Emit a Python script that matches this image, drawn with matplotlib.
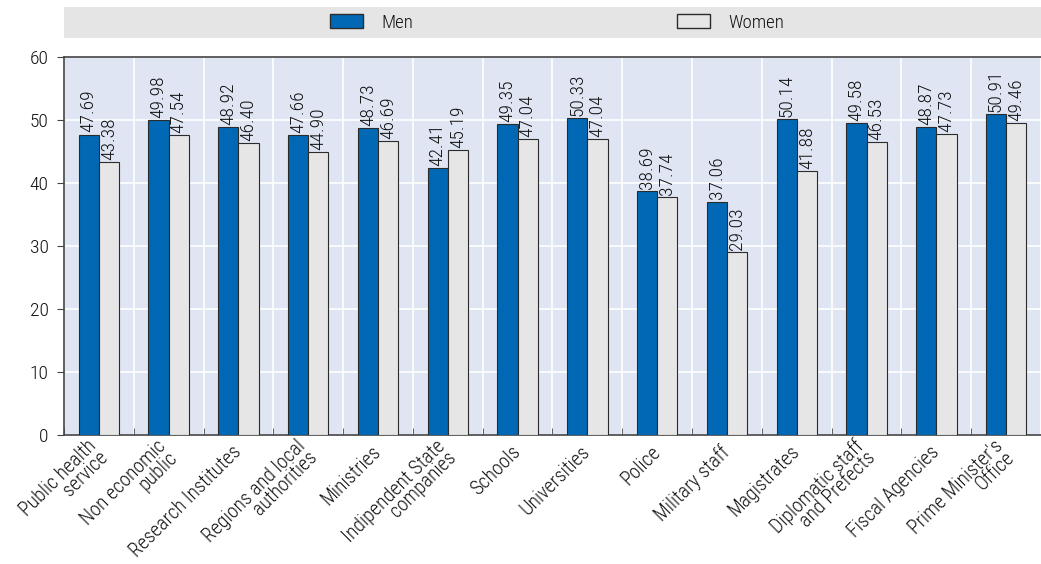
import numpy as np
import matplotlib
matplotlib.use("Agg")
from matplotlib import pyplot as plt
from matplotlib.patches import Patch, Rectangle

plt.rcParams['font.family'] = ['Roboto Condensed', 'Liberation Sans', 'DejaVu Sans']
plt.rcParams['font.weight'] = 'light'

# Data
categories = ["Public health\nservice", "Non economic\npublic", "Research Institutes",
              "Regions and local\nauthorities", "Ministries", "Indipendent State\ncompanies",
              "Schools", "Universities", "Police", "Military staff", "Magistrates",
              "Diplomatic staff\nand Prefects", "Fiscal Agencies", "Prime Minister's\nOffice"]
men = [47.69, 49.98, 48.92, 47.66, 48.73, 42.41, 49.35, 50.33, 38.69, 37.06, 50.14, 49.58, 48.87, 50.91]
women = [43.38, 47.54, 46.40, 44.90, 46.69, 45.19, 47.04, 47.04, 37.74, 29.03, 41.88, 46.53, 47.73, 49.46]

men_color = "#0068b5"
women_color = "#e6e6e6"
edge = "#2b2b2b"
txt = "#111111"

fig = plt.figure(figsize=(10.41, 5.64), dpi=100)
ax = fig.add_axes([64 / 1041, 1 - 435 / 564, 1 - 64 / 1041, (435 - 57) / 564])
ax.set_facecolor("#dfe5f3")

x = np.arange(len(categories))
w = 0.29
b1 = ax.bar(x - w / 2, men, w, color=men_color, edgecolor=edge, linewidth=0.8, zorder=3)
b2 = ax.bar(x + w / 2, women, w, color=women_color, edgecolor=edge, linewidth=0.8, zorder=3)
ax.bar_label(b1, labels=[f"{v:.2f}" for v in men], rotation=90, padding=1.5, fontsize=14, color=txt)
ax.bar_label(b2, labels=[f"{v:.2f}" for v in women], rotation=90, padding=1.5, fontsize=14, color=txt)

ax.set_xlim(-0.5, len(categories) - 0.5)
ax.set_ylim(0, 60)
ax.set_yticks(np.arange(0, 61, 10))
ax.yaxis.grid(True, color="white", linewidth=1.2, zorder=0)
# vertical separators between categories
ax.set_xticks(np.arange(-0.5, len(categories)), minor=True)
ax.xaxis.grid(True, which="minor", color="white", linewidth=1.2, zorder=0)
ax.set_axisbelow(True)

ax.set_xticks(x)
ax.set_xticklabels(categories, rotation=45, ha="right", va="center", rotation_mode="anchor",
                   fontsize=14.3, linespacing=0.8, color=txt)
ax.tick_params(axis="x", which="major", length=0, pad=10)
ax.tick_params(axis="x", which="minor", direction="in", length=5, color="#444444")
ax.tick_params(axis="y", length=5, color="#444444", labelsize=14, labelcolor=txt, pad=6)

for s in ["left", "bottom", "top"]:
    ax.spines[s].set_color("#444444")
    ax.spines[s].set_linewidth(1.2)
ax.spines["right"].set_visible(False)

# Legend band
fig.patches.append(Rectangle((64 / 1041, 1 - 38 / 564), 1 - 64 / 1041, 31 / 564,
                             transform=fig.transFigure, facecolor="#e5e5e5", edgecolor="none"))
fig.legend(handles=[Patch(facecolor=men_color, edgecolor=edge, label="Men")],
           loc="center left", bbox_to_anchor=(313 / 1041, 1 - 22.5 / 564), frameon=False,
           fontsize=13.5, handlelength=1.75, handleheight=0.7, handletextpad=1.0, labelcolor=txt)
fig.legend(handles=[Patch(facecolor=women_color, edgecolor=edge, label="Women")],
           loc="center left", bbox_to_anchor=(660 / 1041, 1 - 22.5 / 564), frameon=False,
           fontsize=13.5, handlelength=1.75, handleheight=0.7, handletextpad=1.0, labelcolor=txt)

fig.savefig("out.png", dpi=100)
